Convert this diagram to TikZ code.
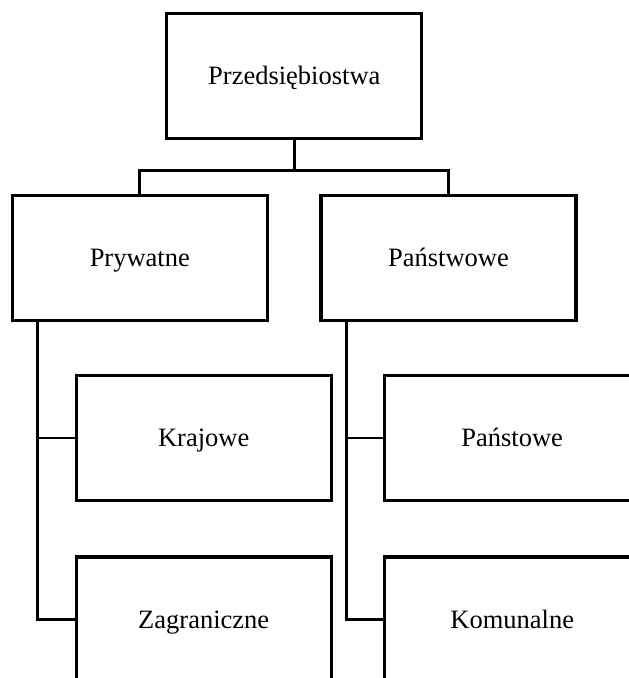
\documentclass[tikz,border=0pt]{standalone}
\usepackage{fontspec}
\setmainfont{Liberation Serif}
\begin{document}
\begin{tikzpicture}[x=1pt,y=-1pt,
  box/.style={draw=black,line width=3.2pt,minimum width=255pt,minimum height=125pt,
    inner sep=0pt,outer sep=0pt,font=\fontsize{26.5}{30}\selectfont,
    text height=17.5pt,text depth=0pt},
  conn/.style={draw=black,line width=2.7pt,line cap=rect}]
\useasboundingbox (0,0) rectangle (629,678);
\clip (0,0) rectangle (629,678);
\node[box] (top) at (294.3,75.7) {Przedsiębiostwa};
\node[box] (pryw) at (139.8,258) {Prywatne};
\node[box] (panst) at (448.5,258) {Państwowe};
\node[box] (kraj) at (203.7,438) {Krajowe};
\node[box] (zagr) at (203.7,619.5) {Zagraniczne};
\node[box] (pans2) at (512.2,438) {Państowe};
\node[box] (komu) at (512.2,619.5) {Komunalne};
\coordinate (lv) at (37.5,321);
\coordinate (rv) at (346.7,321);
\draw[conn] (top.south) -- ++(0,32) coordinate (mid);
\draw[conn] (pryw.north) |- (mid) -| (panst.north);
\draw[conn] (lv) |- (zagr.west);
\draw[conn] (lv |- kraj.west) -- (kraj.west);
\draw[conn] (rv) |- (komu.west);
\draw[conn] (rv |- pans2.west) -- (pans2.west);
\end{tikzpicture}
\end{document}
